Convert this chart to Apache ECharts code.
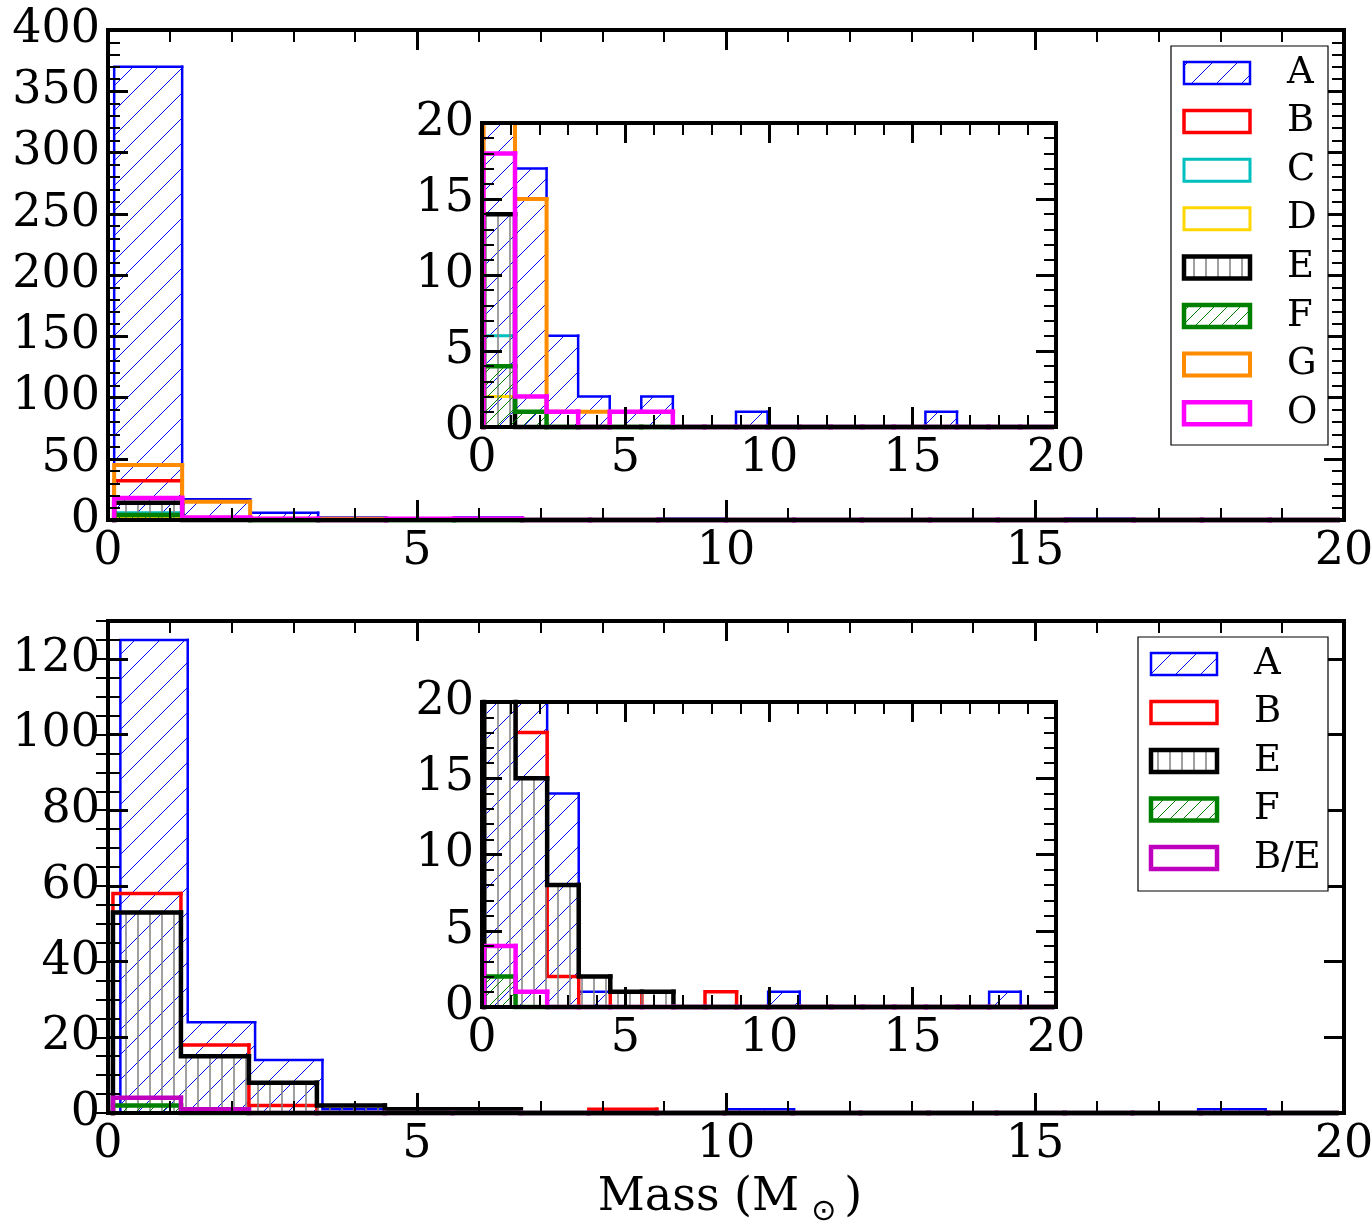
<!DOCTYPE html>
<html>
<head>
<meta charset="utf-8">
<script src="https://cdn.jsdelivr.net/npm/echarts@6/dist/echarts.min.js"></script>
<style>
html, body { margin: 0; padding: 0; background: #fff; }
#chart { width: 1372px; height: 1231px; }
</style>
</head>
<body>
<div id="chart"></div>
<script>
// counts per mass bin (18 bins each)
const topNames = ['A', 'B', 'C', 'D', 'E', 'F', 'G', 'O'];
const topA = [370, 17, 6, 2, 1, 2, 0, 0, 1, 0, 0, 0, 0, 0, 1, 0, 0, 0];
const topB = [32, 0, 0, 0, 0, 0, 0, 0, 0, 0, 0, 0, 0, 0, 0, 0, 0, 0];
const topC = [6, 0, 0, 0, 0, 0, 0, 0, 0, 0, 0, 0, 0, 0, 0, 0, 0, 0];
const topD = [2, 1, 0, 0, 0, 0, 0, 0, 0, 0, 0, 0, 0, 0, 0, 0, 0, 0];
const topE = [14, 0, 0, 0, 0, 0, 0, 0, 0, 0, 0, 0, 0, 0, 0, 0, 0, 0];
const topF = [4, 1, 0, 0, 0, 0, 0, 0, 0, 0, 0, 0, 0, 0, 0, 0, 0, 0];
const topG = [45, 15, 1, 1, 0, 0, 0, 0, 0, 0, 0, 0, 0, 0, 0, 0, 0, 0];
const topO = [18, 2, 1, 0, 1, 1, 0, 0, 0, 0, 0, 0, 0, 0, 0, 0, 0, 0];

const botNames = ['A', 'B', 'E', 'F', 'B/E'];
const botA = [125, 24, 14, 1, 0, 0, 0, 0, 0, 1, 0, 0, 0, 0, 0, 0, 1, 0];
const botB = [58, 18, 2, 0, 1, 0, 0, 1, 0, 0, 0, 0, 0, 0, 0, 0, 0, 0];
const botE = [53, 15, 8, 2, 1, 1, 0, 0, 0, 0, 0, 0, 0, 0, 0, 0, 0, 0];
const botF = [2, 0, 0, 0, 0, 0, 0, 0, 0, 0, 0, 0, 0, 0, 0, 0, 0, 0];
const botBE = [4, 1, 0, 0, 0, 0, 0, 0, 0, 0, 0, 0, 0, 0, 0, 0, 0, 0];

// bin edges in solar masses: first edge + width
const topMainStart = 0.1, topInsetStart = 0.05, topWidth = 1.1;
const botMainStart = [0.2, 0.08, 0.08, 0.08, 0.08];
const botMainWidth = [1.09, 1.1, 1.1, 1.1, 1.1];
const botInsetStart = 0.07, botInsetWidth = 1.1;

const xTitle = 'Mass (M{sun|⊙})';
const FONT = 'DejaVu Serif';

function hatch(kind, color, step, lw) {
    let c = document.createElement('canvas');
    c.width = step; c.height = step;
    let g = c.getContext('2d');
    g.strokeStyle = color;
    g.lineWidth = lw;
    g.beginPath();
    if (kind === '/') {
        [-step, 0, step].forEach(k => { g.moveTo(k, step); g.lineTo(k + step, 0); });
    } else {
        g.moveTo(step / 2, 0); g.lineTo(step / 2, step);
    }
    g.stroke();
    return { image: c, repeat: 'repeat' };
}

let hatchA = hatch('/', '#0000ff', 25, 1);
let hatchE = hatch('|', '#808080', 12, 1.5);
let hatchF = hatch('/', '#008000', 13, 1);

let topStyles = [
    { color: '#0000ff', lw: 2.5, fill: hatchA },
    { color: '#ff0000', lw: 3.5 },
    { color: '#00bfbf', lw: 3 },
    { color: '#ffd700', lw: 3 },
    { color: '#000000', lw: 4.5, fill: hatchE },
    { color: '#008000', lw: 4.5, fill: hatchF },
    { color: '#ff8c00', lw: 4 },
    { color: '#ff00ff', lw: 4.5 }
];
let botStyles = [
    { color: '#0000ff', lw: 2.5, fill: hatchA },
    { color: '#ff0000', lw: 3.5 },
    { color: '#000000', lw: 4.5, fill: hatchE },
    { color: '#008000', lw: 4.5, fill: hatchF },
    { color: '#bf00bf', lw: 4.5 }
];
let botInsetStyles = botStyles.slice(0, 4).concat([{ color: '#ff00ff', lw: 4.5 }]);

// step outline (matplotlib histtype='step') + optional hatch, clipped at yMax
let _renderer = function(yMax, st){
    return function(params, api){
        let x0 = api.value(0), x1 = api.value(1), v = api.value(2), pv = api.value(3), last = api.value(4);
        let cv = Math.min(v, yMax), cp = Math.min(pv, yMax);
        let base = api.coord([x0, 0]);
        let top0 = api.coord([x0, cv]);
        let top1 = api.coord([x1, cv]);
        let prev = api.coord([x0, cp]);
        let kids = [];
        if (st.fill && v > 0) {
            kids.push({
                type: 'rect',
                shape: { x: base[0], y: top1[1], width: top1[0] - base[0], height: base[1] - top1[1] },
                style: { fill: st.fill }
            });
        }
        let pts = [];
        if (cp !== cv) pts.push(prev, top0);
        if (v <= yMax) {
            if (!pts.length) pts.push(top0);
            pts.push(top1);
            if (last) pts.push(api.coord([x1, 0]));
        }
        if (pts.length > 1) {
            kids.push({
                type: 'polyline',
                shape: { points: pts },
                style: { stroke: st.color, lineWidth: st.lw, fill: 'none', lineJoin: 'miter', lineCap: 'square' }
            });
        }
        return { type: 'group', children: kids };
    };
};

let _histSeries = function(name, counts, start, width, xi, yi, yMax, st){
    let data = counts.map((v, i) => [start + i * width, start + (i + 1) * width, v,
        i ? counts[i - 1] : 0, i === counts.length - 1 ? 1 : 0]);
    return {
        type: 'custom', name: name, coordinateSystem: 'cartesian2d',
        xAxisIndex: xi, yAxisIndex: yi,
        renderItem: _renderer(yMax, st),
        encode: { x: [0, 1], y: 2 },
        data: data, silent: true, animation: false
    };
};

let tickCommon = {
    type: 'value', z: 10,
    axisLine: { show: true, onZero: false, lineStyle: { color: '#000', width: 4, cap: 'square' } },
    axisTick: { show: true, inside: true, length: 20, lineStyle: { color: '#000', width: 3 } },
    splitLine: { show: false },
    minorSplitLine: { show: false }
};

let _xPair = function(grid){
    let ax = Object.assign({}, tickCommon, {
        gridIndex: grid, min: 0, max: 20, interval: 5,
        minorTick: { show: true, splitNumber: 5, length: 12, lineStyle: { color: '#000', width: 2 } }
    });
    let bottom = Object.assign({}, ax, {
        position: 'bottom',
        axisLabel: { show: true, margin: 9, fontFamily: FONT, fontSize: 46, color: '#000' }
    });
    let top = Object.assign({}, ax, { position: 'top', axisLabel: { show: false } });
    return [bottom, top];
};

let _yPair = function(grid, max, interval, minorSplit, showMax){
    let ax = Object.assign({}, tickCommon, {
        gridIndex: grid, min: 0, max: max, interval: interval,
        minorTick: { show: minorSplit > 0, splitNumber: minorSplit || 5, length: 12, lineStyle: { color: '#000', width: 2 } }
    });
    let left = Object.assign({}, ax, {
        position: 'left',
        axisLabel: { show: true, margin: 8, fontFamily: FONT, fontSize: 46, color: '#000', showMaxLabel: showMax }
    });
    let right = Object.assign({}, ax, { position: 'right', axisLabel: { show: false } });
    return [left, right];
};

// minor ticks every 5 on the bottom panel (130 is not a multiple of 20)
let _yMinorPair = function(grid, max, step){
    let ax = {
        type: 'value', gridIndex: grid, min: 0, max: max, interval: step, z: 10,
        axisLine: { show: false },
        axisTick: { show: true, inside: true, length: 12, lineStyle: { color: '#000', width: 2 } },
        axisLabel: { show: false }, splitLine: { show: false }
    };
    return [Object.assign({ position: 'left' }, ax), Object.assign({ position: 'right' }, ax)];
};

let xAxes = [].concat(_xPair(0), _xPair(1), _xPair(2), _xPair(3));
let yAxes = [].concat(
    _yPair(0, 400, 50, 5, true),      // y0, y1
    _yPair(1, 20, 5, 5, true),        // y2, y3
    _yPair(2, 130, 20, 0, false),     // y4, y5
    _yMinorPair(2, 130, 5),           // y6, y7
    _yPair(3, 20, 5, 5, true)         // y8, y9
);

let topSets = [topA, topB, topC, topD, topE, topF, topG, topO];
let botSets = [botA, botB, botE, botF, botBE];

let series = [];
topSets.forEach((s, i) => series.push(_histSeries(topNames[i], s, topMainStart, topWidth, 0, 0, 400, topStyles[i])));
topSets.forEach((s, i) => series.push(_histSeries(topNames[i], s, topInsetStart, topWidth, 2, 2, 20, topStyles[i])));
botSets.forEach((s, i) => series.push(_histSeries(botNames[i], s, botMainStart[i], botMainWidth[i], 4, 4, 130, botStyles[i])));
botSets.forEach((s, i) => series.push(_histSeries(botNames[i], s, botInsetStart, botInsetWidth, 6, 8, 20, botInsetStyles[i])));

// legends drawn as graphic boxes so the hatched patches can be shown
let _legend = function(box, names, styles, patchX, textX, row0, rowStep){
    let els = [{
        type: 'rect', z: 20,
        shape: box,
        style: { fill: '#fff', stroke: '#000', lineWidth: 1.2 }
    }];
    names.forEach((n, i) => {
        let cy = row0 + i * rowStep;
        els.push({
            type: 'rect', z: 21,
            shape: { x: patchX, y: cy - 11, width: 66, height: 22 },
            style: { fill: styles[i].fill || '#fff', stroke: styles[i].color, lineWidth: styles[i].lw }
        });
        els.push({
            type: 'text', z: 21, x: textX, y: cy,
            style: { text: n, fontFamily: FONT, fontSize: 37, fill: '#000', verticalAlign: 'middle', align: 'left' }
        });
    });
    return els;
};

let graphics = [].concat(
    _legend({ x: 1171, y: 46, width: 157, height: 399 }, topNames, topStyles, 1184, 1287, 73, 48.6),
    _legend({ x: 1138, y: 637, width: 190, height: 254 }, botNames, botStyles, 1151, 1254, 664, 48.5),
    [{
        // x-axis title with the solar symbol as a lowered subscript
        type: 'text', z: 21, x: 730, y: 1198,
        style: {
            text: xTitle, fontFamily: FONT, fontSize: 46, fill: '#000',
            align: 'center', verticalAlign: 'middle',
            rich: { sun: { fontFamily: 'DejaVu Sans', fontSize: 30, fill: '#000', padding: [28, 8, 0, 12] } }
        }
    }]
);

let gridBase = { outerBoundsMode: 'none', containLabel: false };
let chart = echarts.init(document.getElementById('chart'), null, { renderer: 'canvas' });
chart.setOption({
    animation: false,
    backgroundColor: '#fff',
    grid: [
        Object.assign({ left: 108, top: 30, width: 1236, height: 490 }, gridBase),
        Object.assign({ left: 482, top: 123, width: 574, height: 304 }, gridBase),
        Object.assign({ left: 108, top: 621, width: 1236, height: 492 }, gridBase),
        Object.assign({ left: 482, top: 702, width: 574, height: 305 }, gridBase)
    ],
    xAxis: xAxes,
    yAxis: yAxes,
    series: series,
    graphic: graphics
});
</script>
</body>
</html>
